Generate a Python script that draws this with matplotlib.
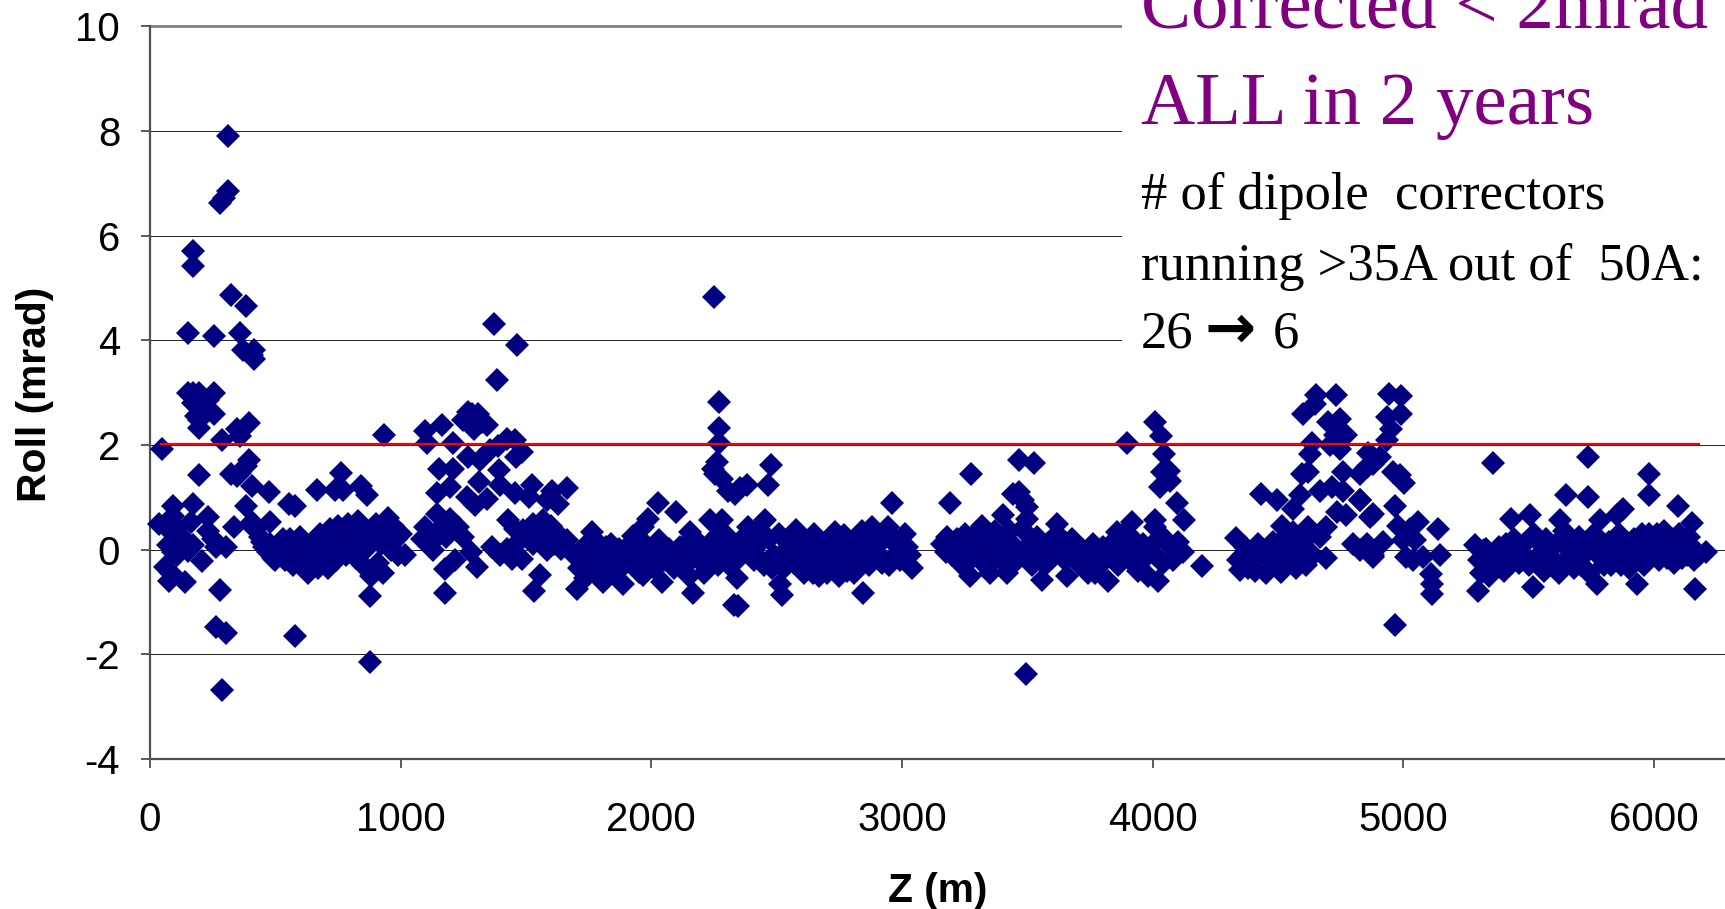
import matplotlib
matplotlib.use('Agg')
import matplotlib.pyplot as plt
import numpy as np
from matplotlib.patches import Rectangle

# (z in m, roll in mrad)
sector_start = [
    (312, 7.9), (312, 6.85), (278, 6.62), (295, 6.73), (173, 5.7), (173, 5.42),
    (323, 4.86), (382, 4.65), (151, 4.15), (254, 4.09), (359, 4.15), (370, 3.82),
    (416, 3.82), (416, 3.65), (405, 3.73), (151, 2.99), (173, 2.99), (197, 2.99),
    (254, 2.99), (230, 2.87), (185, 2.56), (173, 2.8), (197, 2.8), (254, 2.6),
    (219, 2.74), (197, 2.33), (197, 2.48), (288, 2.1), (47, 1.93), (393, 2.43),
    (347, 2.3), (359, 2.17), (393, 1.71), (382, 1.59), (359, 1.46), (323, 1.44),
    (347, 1.41), (197, 1.43), (405, 1.22), (473, 1.1), (173, 0.87), (93, 0.83),
    (382, 0.83), (93, 0.65), (231, 0.63), (162, 0.53), (37, 0.5), (66, 0.42),
    (335, 0.44), (478, 0.53), (405, 0.53), (233, 0.35), (106, 0.42), (59, -0.33),
    (77, -0.59), (139, -0.62), (209, -0.22), (119, 0.05), (73, 0.08), (153, -0.03),
    (106, -0.1), (173, 0.08), (263, 0.05), (302, 0.06), (278, -0.77), (263, -1.47),
    (302, -1.59), (288, -2.69), (90, -0.05), (130, 0.15), (85, -0.45), (120, 0.28),
    (250, 0.2), (420, 0.4), (438, 0.25),
]
sector_1 = [
    (555, 0.87), (578, 0.83), (667, 1.15), (761, 1.47), (738, 1.15), (771, 1.15),
    (842, 1.21), (864, 1.04), (578, -1.65), (876, -0.88), (876, -2.14), (935, 2.2),
    (445, 0.15), (455, 0.05), (470, -0.05), (480, 0.1), (490, -0.15), (500, -0.2),
    (510, 0.05), (520, -0.1), (530, 0.2), (540, -0.2), (550, -0.05), (560, 0.2),
    (570, -0.3), (580, 0.1), (590, -0.15), (600, 0.25), (610, -0.3), (620, -0.1),
    (630, -0.45), (640, 0.05), (650, -0.25), (660, 0.15), (670, -0.35), (680, 0.3),
    (690, -0.1), (700, 0.2), (710, -0.35), (720, 0.4), (730, 0.0), (740, -0.2),
    (750, 0.45), (760, 0.1), (770, 0.25), (780, -0.1), (790, 0.5), (800, 0.1),
    (810, 0.3), (820, -0.15), (830, 0.55), (840, 0.2), (850, -0.3), (860, 0.35),
    (870, 0.05), (880, -0.5), (890, 0.2), (900, 0.5), (910, -0.25), (920, 0.1),
    (930, -0.45), (940, 0.3), (950, 0.6), (960, 0.0), (970, 0.45), (980, 0.2),
    (990, -0.1), (1000, 0.3), (1017, -0.11),
]
sector_2 = [
    (1372, 4.31), (1464, 3.92), (1383, 3.25), (1097, 2.27), (1163, 2.38), (1107, 2.03),
    (1210, 2.04), (1283, 2.6), (1250, 2.47), (1270, 2.63), (1310, 2.6), (1323, 2.44),
    (1293, 2.31), (1343, 2.38), (1283, 2.41), (1423, 2.12), (1456, 2.09), (1389, 1.99),
    (1482, 1.87), (1462, 1.77), (1356, 1.9), (1316, 1.71), (1270, 1.77), (1153, 1.55),
    (1210, 1.55), (1394, 1.52), (1314, 1.29), (1197, 1.2), (1144, 1.09), (1396, 1.23),
    (1456, 1.09), (1522, 1.23), (1513, 1.0), (1263, 1.0), (1296, 0.85), (1343, 0.97),
    (1602, 1.13), (1662, 1.17), (1629, 0.88), (1582, 0.94), (1429, 0.56), (1144, 0.69),
    (1097, 0.43), (1197, 0.59), (1230, 0.43), (1170, 0.46), (1144, 0.24), (1180, 0.24),
    (1084, 0.21), (1250, 0.24), (1130, 0.0), (1216, -0.2), (1177, -0.36), (1177, -0.82),
    (1303, -0.33), (1280, -0.04), (1363, 0.05), (1423, 0.02), (1396, -0.11), (1443, -0.17),
    (1482, -0.17), (1556, -0.49), (1533, -0.78), (1529, 0.5), (1569, 0.56), (1489, 0.37),
    (1529, 0.11), (1582, 0.24), (1622, 0.31), (1662, 0.18), (1582, 0.0), (1640, 0.02),
    (1470, 0.15), (1510, 0.3), (1550, 0.35), (1600, 0.45), (1610, 0.1), (1455, 0.4),
]
sector_3 = [
    (1762, 0.34), (1702, -0.75), (1735, -0.55), (1808, -0.62), (1888, -0.65), (1968, -0.49),
    (2041, -0.62), (2167, -0.83), (2340, -0.55), (2344, -1.08), (2330, -1.05), (2523, -0.87),
    (2513, -0.65), (2028, 0.89), (2098, 0.72), (1988, 0.59), (1968, 0.43), (2154, 0.34),
    (2234, 0.56), (2280, 0.56), (1928, 0.27), (1841, 0.11), (2114, 0.05), (2194, 0.11),
    (2307, 0.24), (2248, 4.83), (2271, 2.83), (2271, 2.32), (2271, 2.03), (2247, 1.55),
    (2260, 1.68), (2253, 1.45), (2280, 1.36), (2307, 1.13), (2353, 1.17), (2380, 1.23),
    (2333, 1.07), (2477, 1.61), (2467, 1.23), (1690, -0.1), (1710, -0.35), (1730, 0.05),
    (1750, -0.2), (1770, -0.4), (1790, 0.1), (1810, -0.25), (1830, -0.05), (1850, -0.4),
    (1870, 0.02), (1890, -0.3), (1910, 0.08), (1930, -0.2), (1950, -0.42), (1970, 0.12),
    (1990, -0.15), (2010, -0.35), (2030, 0.18), (2050, -0.2), (2070, 0.02), (2090, -0.35),
    (2110, -0.1), (2130, -0.3), (2150, -0.5), (2170, 0.0), (2190, -0.2), (2210, -0.45),
    (2230, 0.1), (2250, -0.15), (2270, 0.3), (2290, -0.05), (2310, -0.3), (2330, 0.1),
    (2350, -0.15), (2370, 0.25), (2390, 0.0),
]
sector_4 = [
    (2845, -0.83), (2454, 0.56), (2387, 0.43), (2420, 0.35), (2579, 0.37), (2732, 0.34),
    (2958, 0.89), (2879, 0.43), (2944, 0.43), (2410, -0.2), (2430, 0.1), (2450, -0.3),
    (2470, 0.2), (2490, -0.1), (2510, 0.3), (2530, -0.35), (2550, 0.05), (2570, -0.25),
    (2590, 0.2), (2610, -0.45), (2630, 0.1), (2650, -0.2), (2670, -0.5), (2690, 0.05),
    (2710, -0.3), (2730, -0.05), (2750, -0.5), (2770, 0.1), (2790, -0.25), (2810, -0.45),
    (2830, 0.2), (2850, 0.0), (2870, -0.3), (2890, 0.3), (2910, -0.1), (2930, 0.2),
    (2950, -0.3), (2970, 0.1), (2990, -0.2), (3010, 0.3), (3030, -0.1), (3040, -0.35),
    (2600, 0.0), (2660, 0.15), (2720, 0.2), (2780, -0.4), (2840, 0.35), (2900, 0.15),
    (2960, 0.25), (3020, 0.05), (2680, -0.2), (2740, -0.25), (2800, 0.0), (2860, -0.15),
]
sector_5 = [
    (3896, 2.04), (4010, 2.44), (4035, 2.17), (4045, 1.82), (4066, 1.5), (4036, 1.48),
    (4069, 1.32), (4030, 1.2), (4095, 0.89), (4125, 0.56), (4010, 0.56), (4010, 0.43),
    (4195, -0.32), (3468, 1.72), (3526, 1.66), (3274, 1.44), (3192, 0.89), (3468, 1.1),
    (3444, 1.06), (3497, 0.82), (3401, 0.67), (3484, 0.94), (3497, 0.59), (3493, -2.37),
    (3918, 0.52), (3859, 0.34), (3617, 0.5), (3320, 0.45), (3160, 0.1), (3180, 0.25),
    (3200, -0.1), (3220, 0.2), (3240, -0.3), (3260, 0.05), (3270, -0.5), (3290, 0.3),
    (3310, -0.2), (3330, 0.15), (3350, -0.45), (3370, 0.35), (3390, -0.1), (3410, 0.2),
    (3420, -0.45), (3440, 0.1), (3460, -0.2), (3480, 0.4), (3500, 0.05), (3520, -0.3),
    (3540, 0.25), (3560, -0.58), (3580, 0.1), (3600, -0.15), (3620, 0.3), (3640, 0.05),
    (3660, -0.5), (3680, 0.2), (3700, -0.25), (3720, 0.0), (3740, -0.45), (3760, 0.1),
    (3780, -0.3), (3800, 0.05), (3820, -0.6), (3840, 0.15), (3860, -0.3), (3880, 0.3),
    (3900, -0.15), (3920, 0.2), (3940, -0.4), (3960, 0.1), (3980, -0.5), (4000, 0.1),
    (4020, -0.6), (4040, -0.25), (4060, 0.1), (4080, -0.2), (4100, 0.15), (4120, -0.05),
    (3570, -0.3), (3690, -0.05), (3350, 0.0), (3430, 0.35), (3250, 0.3),
]
sector_6 = [
    (4332, 0.23), (4434, 1.06), (4494, 0.94), (4561, 0.78), (4587, 1.04), (4600, 2.6),
    (4647, 2.79), (4634, 2.03), (4627, 1.83), (4594, 1.44), (4620, 1.48), (4699, 2.44),
    (4747, 2.5), (4727, 2.2), (4773, 2.2), (4707, 2.0), (4747, 1.93), (4760, 1.48),
    (4667, 1.13), (4714, 1.2), (4760, 1.13), (4826, 0.94), (4734, 0.72), (4773, 0.66),
    (4866, 0.62), (4514, 0.45), (4561, 0.34), (4620, 0.43), (4693, 0.43), (4667, 0.24),
    (4800, 0.11), (4640, -0.11), (4693, -0.15), (4880, -0.11), (4650, 2.95), (4730, 2.95),
    (4340, -0.2), (4350, -0.38), (4370, 0.05), (4390, -0.25), (4410, -0.4), (4430, -0.1),
    (4450, -0.45), (4470, 0.0), (4490, -0.3), (4510, -0.42), (4530, 0.1), (4550, -0.2),
    (4570, -0.35), (4590, 0.05), (4610, -0.3), (4420, 0.1), (4480, 0.15), (4540, 0.3),
    (4360, -0.1), (4600, 0.15),
]
sector_7 = [
    (4944, 2.98), (4990, 2.93), (4934, 2.54), (4990, 2.59), (4950, 2.31), (4934, 2.09),
    (4880, 1.77), (4853, 1.58), (4827, 1.45), (4880, 1.64), (4907, 1.77), (4960, 1.48),
    (4986, 1.42), (5002, 1.27), (4966, 0.83), (4827, 0.94), (4880, 0.69), (4860, 1.85),
    (4978, 0.45), (5059, 0.52), (5139, 0.39), (5026, 0.4), (4999, 0.18), (5046, 0.18),
    (5146, -0.11), (5079, -0.14), (5039, -0.2), (5012, -0.14), (5112, -0.46), (5116, -0.65),
    (5116, -0.85), (4966, -1.43), (4880, -0.14), (4920, 0.15), (4853, 0.11), (4827, 0.0),
]
sector_8 = [
    (5358, 1.66), (5737, 1.77), (5980, 1.44), (5980, 1.05), (5647, 1.05), (5737, 1.0),
    (6097, 0.83), (5877, 0.78), (5851, 0.66), (5784, 0.56), (5430, 0.58), (5505, 0.67),
    (5625, 0.57), (6153, 0.51), (5299, -0.78), (5518, -0.71), (5771, -0.66), (5930, -0.66),
    (6162, -0.76), (6206, -0.04), (5285, 0.08), (5300, -0.2), (5320, 0.0), (5340, -0.5),
    (5360, -0.15), (5380, 0.05), (5400, -0.4), (5420, -0.05), (5440, 0.2), (5460, -0.25),
    (5480, 0.1), (5500, -0.3), (5520, 0.3), (5540, -0.1), (5560, -0.4), (5580, 0.1),
    (5600, -0.2), (5620, -0.45), (5640, 0.35), (5660, 0.0), (5680, -0.35), (5700, 0.25),
    (5720, -0.1), (5740, -0.45), (5760, 0.3), (5780, 0.05), (5800, -0.3), (5820, 0.15),
    (5840, -0.15), (5860, 0.3), (5880, -0.1), (5900, -0.35), (5920, 0.2), (5940, 0.0),
    (5960, -0.3), (5980, 0.3), (6000, 0.1), (6020, -0.2), (6040, 0.35), (6060, 0.05),
    (6080, -0.25), (6100, 0.3), (6120, 0.0), (6140, 0.25), (6160, -0.2), (6180, -0.1),
    (5330, 0.02), (5450, -0.15), (5570, 0.2), (5690, -0.05), (5810, -0.05), (5950, 0.3),
]
# where the marks overlap so much that single ones cannot be told apart
sector_dense = [
    (1725, -0.15), (1780, -0.1), (1820, 0.05), (1860, -0.2), (1900, -0.12), (1945, -0.05),
    (2000, 0.0), (2060, -0.12), (2125, 0.05), (2160, -0.2), (2220, -0.1), (2265, -0.3),
    (2430, -0.15), (2480, -0.35), (2540, -0.15), (2560, 0.25), (2620, -0.2), (2645, -0.45),
    (2700, -0.45), (2725, -0.15), (2760, -0.35), (2785, -0.1), (2815, -0.15), (2825, -0.3),
    (2880, 0.1), (2920, -0.25), (2975, -0.1), (3000, 0.1), (2650, 0.3), (2770, 0.28),
    (3175, -0.05), (3230, 0.0), (3280, -0.15), (3300, 0.05), (3345, -0.25), (3380, 0.1),
    (3405, -0.25), (3450, -0.1), (3510, -0.1), (3550, 0.0), (3590, -0.05), (3650, -0.2),
    (3670, 0.0), (3710, -0.1), (3750, -0.1), (3770, -0.45), (3810, -0.2), (3850, -0.1),
    (3890, 0.05), (3930, -0.05), (3970, -0.15), (4010, -0.1), (4050, 0.2), (4380, -0.35),
    (4400, 0.0), (4460, -0.15), (4520, -0.1), (4560, 0.05), (4580, -0.15), (5310, -0.45),
    (5345, -0.2), (5390, -0.2), (5410, 0.1), (5470, -0.05), (5490, -0.2), (5530, -0.15),
    (5550, 0.1), (5590, -0.3), (5610, 0.1), (5650, -0.2), (5670, 0.2), (5710, -0.3),
    (5750, 0.05), (5790, -0.15), (5830, -0.3), (5850, 0.05), (5870, -0.3), (5890, 0.15),
    (5910, -0.05), (5930, -0.2), (5990, -0.1), (6010, 0.3), (6050, -0.15), (6070, 0.2),
    (6110, -0.15), (6130, -0.1), (6150, 0.05),
]

sectors = [sector_start, sector_1, sector_2, sector_3, sector_4, sector_5, sector_6, sector_7,
           sector_8, sector_dense]

threshold_z = [44, 6178]
threshold_roll = [2.02, 2.02]

z_ticks = [0, 1000, 2000, 3000, 4000, 5000, 6000]
roll_ticks = [-4, -2, 0, 2, 4, 6, 8, 10]

W, H = 1725, 909


def main():
    plt.rcParams['font.family'] = ['Liberation Sans', 'DejaVu Sans']
    plt.rcParams['axes.unicode_minus'] = False
    fig = plt.figure(figsize=(W / 100, H / 100), dpi=100)
    ax = fig.add_axes([150 / W, 1 - 759 / H, 1 - 150 / W, (759 - 26.4) / H])

    points = np.array([p for s in sectors for p in s])
    ax.plot(points[:, 0], points[:, 1], linestyle='none', marker='D', markersize=11.8,
            markerfacecolor='#000080', markeredgewidth=0, zorder=3, clip_on=False)
    ax.plot(threshold_z, threshold_roll, color='#ff0000', linewidth=1.6, zorder=4)

    ax.set_xlim(0, 6283)
    ax.set_ylim(-4, 10)
    ax.set_xticks(z_ticks)
    ax.set_yticks(roll_ticks)
    ax.tick_params(axis='both', labelsize=28.9, length=6.5, width=1.2, color='#404040')
    ax.tick_params(axis='x', pad=23.5)
    ax.tick_params(axis='y', pad=15)
    ax.grid(axis='y', color='#202020', linewidth=0.7, zorder=1)
    ax.set_axisbelow(True)
    for side in ['top', 'right']:
        ax.spines[side].set_visible(False)
    for side in ['left', 'bottom']:
        ax.spines[side].set_color('#505050')
        ax.spines[side].set_linewidth(1.6)

    # top grid line looks heavier in the original
    ax.axhline(10, color='#808080', linewidth=2.0, zorder=1, clip_on=False)

    fig.text(35 / W, 1 - 394 / H, 'Roll (mrad)', rotation=90, fontsize=29.3, fontweight='bold',
             ha='center', va='center')
    fig.text(938 / W, 1 - 891 / H, 'Z (m)', fontsize=29.3, fontweight='bold',
             ha='center', va='center')

    # pasted text box hides the grid on the upper right
    fig.add_artist(Rectangle((1122 / W, 1 - 375 / H), 1 - 1122 / W, 375 / H,
                             transform=fig.transFigure, facecolor='white',
                             edgecolor='none', zorder=5))

    serif = ['Liberation Serif', 'DejaVu Serif']
    for text, y in [('Corrected < 2mrad', 27), ('ALL in 2 years', 124)]:
        fig.text(1141 / W, 1 - y / H, text, family=serif, fontsize=54, color='#800080',
                 va='baseline', zorder=6)
    for text, x, y in [('# of dipole  correctors', 1141, 209), ('running >35A out of  50A:', 1141, 280),
                       ('26', 1141, 348), ('6', 1273, 348)]:
        fig.text(x / W, 1 - y / H, text, family=serif, fontsize=37.9, color='black',
                 va='baseline', zorder=6)
    fig.text(1204 / W, 1 - 348 / H, '\u2192', family='DejaVu Sans', fontweight='bold', fontsize=44,
             color='black', va='baseline', zorder=6)

    fig.savefig('out.png', dpi=100)


if __name__ == '__main__':
    main()
